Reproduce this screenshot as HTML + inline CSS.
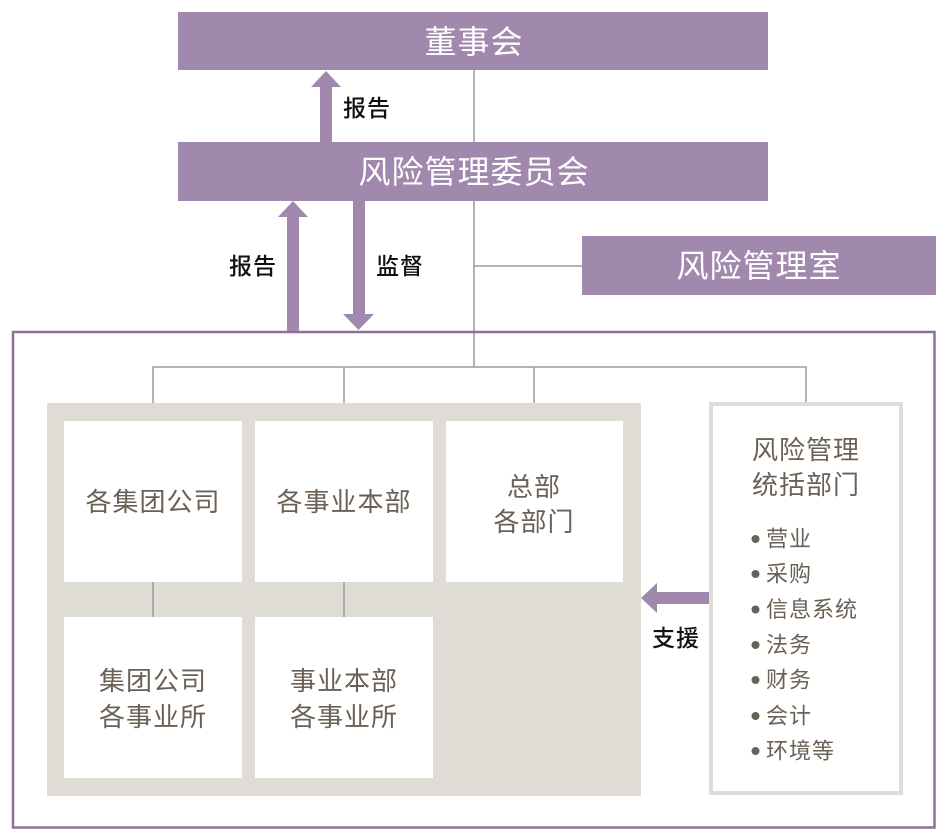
<!DOCTYPE html>
<html><head><meta charset="utf-8"><style>
html,body{margin:0;padding:0;background:#fff;width:951px;height:839px;overflow:hidden}
svg{display:block}
text{font-family:"Liberation Sans","Noto Sans CJK SC",sans-serif}
</style></head><body>
<svg width="951" height="839" viewBox="0 0 951 839" xmlns="http://www.w3.org/2000/svg">
<g fill="#a189ae">
<rect x="178" y="12" width="590" height="58"/>
<rect x="178" y="142" width="590" height="59"/>
<rect x="582" y="236" width="354" height="59"/>
<rect x="320" y="86" width="12" height="56"/>
<polygon points="311,87 341,87 326,71"/>
<rect x="287" y="216" width="12" height="116"/>
<polygon points="278,217 308,217 293,201"/>
<rect x="353" y="201" width="12" height="114"/>
<polygon points="343,314 374,314 358.5,330"/>
<rect x="656" y="592" width="54" height="12"/>
<polygon points="657,583 657,613 641,598"/>
</g>
<g stroke="#9b9b9b" stroke-width="1.5" fill="none">
<line x1="474" y1="70" x2="474" y2="142"/>
<line x1="474" y1="201" x2="474" y2="367"/>
<line x1="474" y1="266" x2="582" y2="266"/>
<polyline points="153,403 153,367 806,367 806,402"/>
<line x1="344" y1="367" x2="344" y2="403"/>
<line x1="534" y1="367" x2="534" y2="403"/>
</g>
<rect x="13" y="332" width="921.5" height="495.5" fill="none" stroke="#8d7199" stroke-width="2.5"/>
<rect x="47" y="403" width="594" height="393" fill="#dedcd5"/>
<g fill="#fff">
<rect x="64" y="421" width="178" height="161"/>
<rect x="255" y="421" width="178" height="161"/>
<rect x="446" y="421" width="177" height="161"/>
<rect x="64" y="617" width="178" height="161"/>
<rect x="255" y="617" width="178" height="161"/>
</g>
<g stroke="#9b9b9b" stroke-width="1.5">
<line x1="153" y1="582" x2="153" y2="617"/>
<line x1="344" y1="582" x2="344" y2="617"/>
</g>
<rect x="711" y="404" width="190" height="389" fill="#fff" stroke="#deddd6" stroke-width="4"/>
<g fill="#fff" font-size="32" text-anchor="middle" dominant-baseline="central" letter-spacing="1">
<text x="474" y="42">董事会</text>
<text x="474" y="172">风险管理委员会</text>
<text x="759" y="266">风险管理室</text>
</g>
<g fill="#111" font-size="23" font-weight="500" text-anchor="middle" dominant-baseline="central" letter-spacing="1">
<text x="367" y="108">报告</text>
<text x="253" y="266">报告</text>
<text x="400" y="266">监督</text>
<text x="676" y="638">支援</text>
</g>
<g fill="#6b6055" font-size="26" text-anchor="middle" dominant-baseline="central" letter-spacing="1">
<text x="153" y="502">各集团公司</text>
<text x="344" y="502">各事业本部</text>
<text x="534" y="487">总部</text>
<text x="534" y="522">各部门</text>
<text x="153" y="681">集团公司</text>
<text x="153" y="717">各事业所</text>
<text x="344" y="681">事业本部</text>
<text x="344" y="717">各事业所</text>
<text x="806" y="450">风险管理</text>
<text x="806" y="485">统括部门</text>
</g>
<g fill="#6b6055">
<circle cx="755.5" cy="539" r="4"/>
<circle cx="755.5" cy="574" r="4"/>
<circle cx="755.5" cy="609.5" r="4"/>
<circle cx="755.5" cy="645" r="4"/>
<circle cx="755.5" cy="680" r="4"/>
<circle cx="755.5" cy="716" r="4"/>
<circle cx="755.5" cy="751" r="4"/>
</g>
<g fill="#6b6055" font-size="22" dominant-baseline="central" letter-spacing="1">
<text x="766" y="539">营业</text>
<text x="766" y="574">采购</text>
<text x="766" y="609.5">信息系统</text>
<text x="766" y="645">法务</text>
<text x="766" y="680">财务</text>
<text x="766" y="716">会计</text>
<text x="766" y="751">环境等</text>
</g>
</svg>
</body></html>
